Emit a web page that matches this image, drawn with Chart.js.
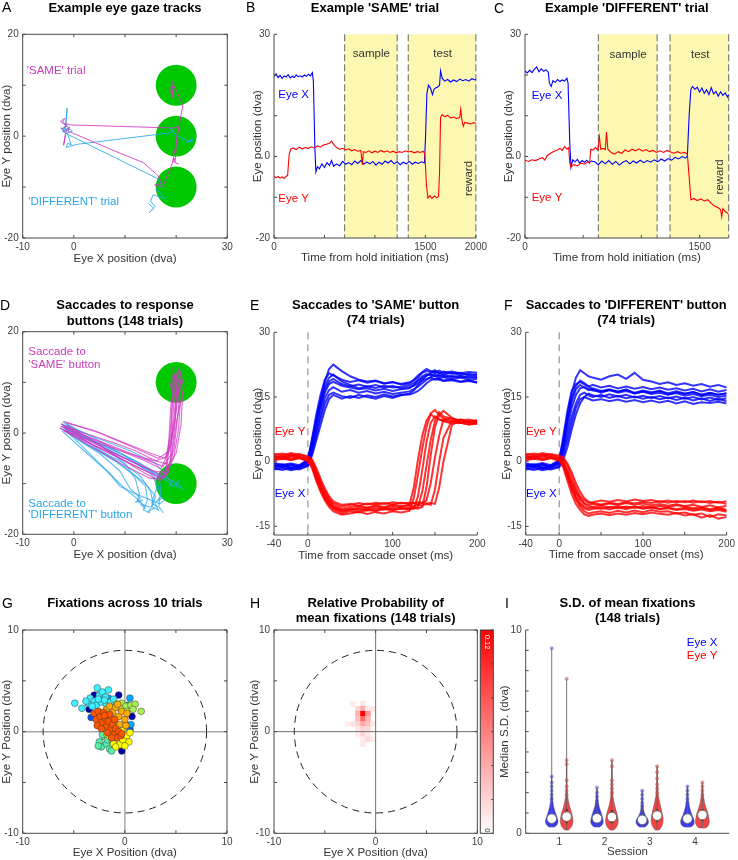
<!DOCTYPE html>
<html>
<head>
<meta charset="utf-8">
<title>Eye gaze figure</title>
<script src="https://cdn.jsdelivr.net/npm/chart.js@4.4.1/dist/chart.umd.min.js"></script>
<style>
  html, body { margin: 0; padding: 0; background: #fff; }
  body { position: relative; width: 738px; height: 860px; overflow: hidden; font-family: "Liberation Sans", Arial, sans-serif; }
  canvas { position: absolute; }
  .tag { position: absolute; font-size: 14px; line-height: 14px; color: #000; }
</style>
</head>
<body>
<canvas id="panelA" width="245" height="285" style="left:0px;top:0px"></canvas>
<canvas id="panelB" width="245" height="285" style="left:245px;top:0px"></canvas>
<canvas id="panelC" width="248" height="285" style="left:490px;top:0px"></canvas>
<canvas id="panelD" width="245" height="300" style="left:0px;top:285px"></canvas>
<canvas id="panelE" width="245" height="300" style="left:245px;top:285px"></canvas>
<canvas id="panelF" width="248" height="300" style="left:490px;top:285px"></canvas>
<canvas id="panelG" width="245" height="275" style="left:0px;top:585px"></canvas>
<canvas id="panelH" width="252" height="275" style="left:245px;top:585px"></canvas>
<canvas id="panelI" width="248" height="275" style="left:490px;top:585px"></canvas>

<div class="tag" style="left:2px;top:0px">A</div>
<div class="tag" style="left:246px;top:0px">B</div>
<div class="tag" style="left:494px;top:1px">C</div>
<div class="tag" style="left:0px;top:298px">D</div>
<div class="tag" style="left:250px;top:298px">E</div>
<div class="tag" style="left:504px;top:298px">F</div>
<div class="tag" style="left:2px;top:596px">G</div>
<div class="tag" style="left:250px;top:596px">H</div>
<div class="tag" style="left:505px;top:596px">I</div>

<script>
// ---- A: example gaze tracks (x, y in dva) ----
const sameTrack = [[20.5,-5.5],[19.3,-4.9],[19.6,-4.3],[19.8,-5.0],[20.2,0.5],[20.7,1.9],[19.5,1.6],[-0.5,2.2],[-2.2,2.6],[-1.8,3.5],[-2.6,2.9],[-1.4,2.0],[-2.3,1.5],[-1.6,0.5],[-2.0,-1.8],[-1.5,1.2],[-0.8,1.8],[-1.2,1.0],[0.5,0.3],[7.0,-2.5],[13.6,-5.2],[16.3,-7.6],[17.2,-9.2],[15.8,-9.6],[17.4,-9.9],[19.3,-5.2],[21.3,6.1],[19.2,10.8],[19.0,8.5],[18.6,9.4],[19.6,9.7],[19.2,7.5],[19.4,10.2]];
const diffTrack = [[23.5,-0.4],[22.0,-1.2],[23.3,-1.0],[21.5,-0.6],[20.0,0.2],[18.8,1.6],[19.6,1.0],[18.5,0.6],[0.6,-1.6],[-1.5,-2.2],[-1.2,-1.4],[-0.5,-1.7],[-1.6,1.5],[-1.3,5.5],[-1.8,0.8],[-2.6,1.6],[-0.9,1.2],[-1.5,2.4],[-2.2,0.8],[-1.0,1.6],[-0.3,1.0],[-1.5,0.5],[16.5,-8.4],[17.3,-9.6],[16.0,-10.6],[16.8,-11.0],[17.8,-12.3],[15.5,-11.5],[15.0,-12.8],[15.9,-13.8],[14.8,-15.0],[15.6,-14.2],[14.6,-13.2]];
const buttonsA = [[20, 10], [20, 0], [20, -10]];
const buttonRadius = 4;

// ---- B: example 'SAME' trial ([ms, dva]) ----
const sameEyeX = [[0,19.6],[20,20.3],[40,19.4],[60,19.9],[80,19.2],[100,19.8],[120,19.5],[140,20.1],[160,19.3],[180,19.7],[200,19.4],[220,20.0],[240,19.6],[260,19.8],[280,19.5],[300,20.0],[320,19.7],[340,20.2],[360,19.8],[380,20.6],[390,18.5],[405,2.0],[415,-3.8],[430,-2.5],[450,-3.0],[475,-1.8],[500,-2.7],[525,-1.5],[550,-2.2],[570,-1.0],[590,-2.4],[620,-1.8],[650,-2.3],[680,-1.2],[710,-1.9],[740,-1.5],[770,-2.0],[800,-1.1],[830,-1.7],[860,-1.0],[890,-1.9],[920,-1.3],[950,-1.8],[980,-1.2],[1010,-2.1],[1040,-1.4],[1070,-1.9],[1100,-1.1],[1130,-1.6],[1160,-1.0],[1190,-1.8],[1220,-1.3],[1250,-2.0],[1280,-1.4],[1310,-1.8],[1340,-1.2],[1370,-1.9],[1400,-1.4],[1430,-1.7],[1460,-1.3],[1490,-1.6],[1500,4.0],[1515,15.5],[1530,17.5],[1550,16.8],[1570,15.2],[1585,16.5],[1600,16.8],[1620,17.0],[1640,17.5],[1650,21.0],[1665,19.3],[1690,18.5],[1720,18.9],[1750,18.3],[1780,18.8],[1810,18.4],[1840,19.0],[1870,18.6],[1900,18.9],[1930,18.5],[1960,19.1],[1990,18.8],[2000,19.0]];
const sameEyeY = [[0,-4.8],[20,-5.2],[40,-4.9],[60,-5.3],[80,-5.0],[100,-5.4],[120,-4.9],[135,-4.6],[150,0.5],[165,1.8],[190,2.1],[220,1.7],[250,2.3],[280,1.9],[310,2.2],[340,2.0],[370,2.4],[400,2.1],[430,2.6],[460,2.3],[490,2.8],[520,3.0],[550,3.3],[570,3.8],[590,3.0],[620,2.2],[650,1.8],[680,2.0],[710,1.6],[740,1.9],[770,1.4],[800,1.7],[830,1.3],[860,1.5],[875,-2.0],[885,1.2],[910,1.0],[940,1.4],[970,0.9],[1000,1.3],[1030,1.0],[1060,1.5],[1090,1.1],[1120,1.4],[1150,1.0],[1180,1.3],[1210,0.9],[1240,1.2],[1270,1.0],[1300,1.4],[1330,1.1],[1360,1.3],[1390,0.9],[1420,1.2],[1450,1.0],[1480,1.3],[1495,0.5],[1510,-7.0],[1525,-10.2],[1545,-9.6],[1565,-10.3],[1590,-9.7],[1610,-10.1],[1630,-9.8],[1640,-4.0],[1650,9.5],[1665,10.3],[1690,9.8],[1720,10.1],[1750,9.5],[1780,9.7],[1810,9.3],[1840,9.6],[1850,11.6],[1860,9.2],[1875,7.4],[1890,8.4],[1920,8.2],[1950,8.0],[1980,8.3],[2000,8.1]];
const sameWindows = [[700, 1220], [1330, 2000]];

// ---- C: example 'DIFFERENT' trial ([ms, dva]) ----
const diffEyeX = [[0,21.0],[20,20.5],[40,21.2],[60,20.6],[80,21.4],[100,22.0],[120,20.8],[140,21.5],[160,20.9],[180,21.3],[200,20.7],[210,18.0],[225,17.2],[240,18.6],[260,18.2],[280,18.9],[300,18.4],[320,18.8],[340,18.5],[360,19.2],[370,18.0],[385,3.0],[395,-2.6],[410,-0.8],[430,-1.3],[450,-0.7],[470,-1.6],[490,-1.0],[510,-1.4],[530,-0.9],[550,-1.5],[570,-1.1],[600,-1.3],[630,-2.0],[660,-1.1],[690,-1.8],[720,-1.0],[750,-1.9],[780,-1.2],[810,-2.1],[840,-1.4],[870,-1.0],[900,-1.8],[930,-1.1],[960,-1.6],[990,-0.9],[1020,-1.5],[1050,-1.0],[1080,-1.4],[1110,-0.8],[1140,-1.3],[1170,-0.6],[1200,-1.1],[1230,-0.5],[1260,-0.9],[1290,-0.2],[1320,-0.6],[1350,0.0],[1380,-0.4],[1395,0.2],[1410,10.0],[1425,16.5],[1440,17.2],[1460,16.5],[1480,17.0],[1500,15.8],[1520,16.8],[1540,15.5],[1560,16.4],[1580,15.2],[1600,16.9],[1620,15.4],[1640,16.0],[1660,14.8],[1680,15.9],[1700,15.0],[1720,15.6],[1740,14.6],[1750,15.2]];
const diffEyeY = [[0,-0.9],[30,-1.2],[60,-0.8],[90,-1.0],[120,-0.6],[150,-0.3],[170,-0.9],[190,0.2],[220,0.8],[250,1.3],[280,1.6],[300,2.0],[320,1.5],[340,2.4],[360,1.8],[375,2.2],[385,-1.5],[395,-2.6],[420,-2.0],[450,-2.3],[480,-1.6],[510,-1.9],[540,-1.3],[555,-1.7],[565,1.8],[585,1.6],[605,2.2],[625,1.6],[640,4.8],[650,1.8],[670,2.0],[690,1.7],[700,6.0],[712,1.8],[740,1.0],[770,0.6],[800,1.2],[830,0.8],[860,1.6],[890,1.2],[920,1.8],[950,1.4],[980,1.9],[1010,1.3],[1040,1.7],[1070,1.2],[1100,1.5],[1130,1.0],[1160,1.4],[1190,1.0],[1220,1.5],[1250,1.1],[1280,0.8],[1310,1.2],[1340,0.8],[1370,1.0],[1395,0.6],[1410,-5.0],[1425,-10.6],[1450,-10.3],[1480,-10.8],[1510,-10.4],[1540,-10.9],[1570,-10.6],[1600,-11.5],[1630,-12.2],[1660,-12.6],[1680,-13.0],[1690,-14.8],[1700,-12.8],[1720,-13.5],[1740,-13.9],[1750,-14.2]];
const diffWindows = [[630, 1135], [1246, 1750]];

// ---- D: saccades to response buttons (x, y in dva) ----
const sameSaccades = [
  [[-2.5,1.8],[2,-0.5],[8,-3],[14,-5.5],[17,-7],[18.5,-4],[19.5,2],[20,8],[19.5,11],[20.5,10]],
  [[-2,1.2],[3,-1.5],[9,-4.5],[14.5,-7],[17.5,-8.5],[18.8,-6],[19.2,0],[19.6,7],[20.2,12],[19.8,10.5]],
  [[-1.5,2.0],[4,0.5],[10,-2],[15,-4],[17.8,-5],[19,-2],[20,4],[20.5,9],[21,12.5],[20.6,11]],
  [[-2.8,1.0],[1,-1],[7,-4],[13,-7],[16.5,-8.5],[18,-7],[18.6,-1],[19,6],[19.4,10],[18.9,9]],
  [[-1.8,0.6],[3,-2],[10,-5],[15.5,-7.5],[18.2,-7.8],[19.5,-5],[20.5,1],[20.8,6],[20.2,9.5],[20.9,12]],
  [[-2.2,1.5],[2,0],[8,-2],[12,-3.5],[16,-5.5],[18,-4.8],[19,0],[19.2,5],[19.6,9],[19.1,12]],
  [[-1.6,1.1],[4,-2.5],[11,-6],[16,-8.5],[17.2,-9],[18.4,-8],[19.6,-3],[20.4,4],[20.8,10],[20.3,13]],
  [[-2.4,0.8],[2,-1],[9,-3.5],[14,-5],[18.6,-6.2],[20,-4],[21,2],[21.2,7],[20.7,10.5],[21.4,10]],
  [[-2.0,2.3],[5,0],[12,-3],[16.5,-5],[18.8,-3.5],[19.8,3],[20.2,9],[19.7,11.5]],
  [[-1.4,1.6],[3,-1],[9,-5],[14,-8],[16.8,-9.5],[18.2,-7],[18.9,1],[19.4,8],[18.6,10.5]],
  [[-2.6,1.3],[6,-2],[13,-4.8],[17.4,-6.6],[19.2,-4],[20.2,3],[21.5,9],[20.9,11.8]],
  [[-1.9,0.4],[4,-3],[10,-6.5],[15,-9],[17.9,-8.8],[19,-5],[19.8,2],[20.1,9],[19.3,13]]
];
const diffSaccades = [
  [[-2,1.2],[3,-2],[9,-6],[14,-10],[16,-12.5],[15.2,-14.5],[16.5,-15.2],[15.8,-13.8]],
  [[-2.5,1.8],[2,-1],[8,-4],[14,-7],[17.5,-9],[19.5,-10.5],[20.5,-9.5],[19.8,-11]],
  [[-1.5,0.5],[2,-3],[6,-7],[10,-11],[13,-13.5],[14,-15],[13.2,-14.2],[14.8,-14.6]],
  [[-2.2,2.2],[4,-1],[10,-4.5],[15,-8],[16.5,-10.5],[17,-12.5],[16.2,-13.5],[17.4,-12.8]],
  [[-1.8,0.8],[3,-2.5],[9,-5.5],[13,-8.5],[15,-11.5],[15.5,-14],[14.6,-15.5],[15.8,-14.8]],
  [[-2.6,1.0],[1,-1.5],[5,-4],[9,-7.5],[11,-11],[13,-12.8],[12.2,-13.6],[13.5,-13.2]],
  [[-1.9,1.5],[4,-0.8],[11,-3.5],[16,-6],[18,-8.5],[19.2,-9.8],[18.6,-10.6],[19.6,-9.2]],
  [[-2.3,0.4],[2,-3.5],[7,-8],[9,-10.5],[12,-12],[14.5,-13],[16.8,-14],[17.8,-13.2]],
  [[-2,1.0],[5,-2],[12,-5.5],[16.5,-8],[17,-11],[16.6,-14.5],[17.5,-15.8],[16.9,-14.9]],
  [[-2.1,1.7],[3,-1.2],[9,-4],[13,-6],[15.6,-8],[16.2,-11],[15.2,-13.8],[16.4,-14.6]],
  [[-1.7,0.9],[2,-2],[8,-5.5],[12,-8.5],[14,-10.5],[14.4,-13.2],[13.6,-15.2],[14.9,-15.8]],
  [[-2.4,1.4],[4,-1.8],[10,-5],[15,-7.5],[18,-8.8],[20.5,-10.2],[21.2,-11],[20.2,-10.4]],
  [[-1.6,1.9],[2,-0.5],[6,-3],[10,-6],[12,-9],[12.8,-12],[12.4,-13.5],[13.8,-14.2]]
];
const buttonsD = [[20, 10], [20, -10]];

// ---- E: saccades to 'SAME' button (ms, dva) ----
const eTime = [-40,-30,-20,-10,0,5,10,15,20,25,30,40,50,60,70,80,90,100,110,120,125,130,135,140,145,150,155,160,170,180,190,200];
const eSameX = [
  [-1.2,-0.8,-1.5,-1.0,-0.2,3.5,8.0,12.5,16.0,18.0,18.5,17.6,17.2,16.8,17.0,16.5,16.9,16.4,16.8,17.0,17.8,18.9,19.8,20.3,20.0,20.4,19.8,20.1,19.6,19.9,19.4,19.7],
  [-0.5,-1.0,-0.6,-1.3,0.3,5.0,10.0,14.5,18.5,21.5,22.5,21.0,19.8,19.0,18.6,18.8,18.2,18.5,18.0,18.4,18.8,19.5,20.6,21.0,20.8,21.2,20.5,20.9,20.4,20.6,20.0,20.3],
  [-1.8,-1.5,-2.0,-1.6,-0.8,2.0,6.0,10.0,13.5,15.5,16.0,15.2,14.8,15.5,15.0,14.6,15.2,14.8,15.4,15.8,16.5,17.8,18.8,19.2,19.5,19.0,19.3,18.8,19.1,18.6,18.9,18.4],
  [-0.9,-1.3,-0.7,-1.1,0.0,4.2,9.0,13.0,16.8,18.6,19.2,18.0,17.5,17.9,17.4,17.8,17.2,17.6,17.0,17.3,17.6,18.2,19.0,19.9,20.6,20.9,20.5,20.2,20.6,20.1,20.4,20.0],
  [-1.4,-1.1,-1.7,-1.3,-0.5,3.0,7.0,11.0,14.8,16.6,17.3,16.2,16.6,16.0,16.4,15.8,16.2,15.7,16.0,16.3,16.8,17.4,18.2,19.0,19.6,19.9,19.3,19.6,19.2,19.5,19.0,19.2],
  [-0.3,-0.7,-0.4,-0.8,0.5,5.5,11.0,15.5,19.0,20.5,20.0,19.0,18.5,18.9,18.3,18.7,18.1,18.4,17.9,18.2,19.0,20.0,20.8,21.5,21.0,20.7,21.1,20.6,20.9,20.5,20.8,20.6],
  [-1.6,-1.9,-1.4,-1.8,-1.0,1.5,5.0,8.5,12.0,14.5,15.5,14.6,15.2,14.8,15.4,15.0,15.6,15.1,15.5,15.6,15.9,16.4,17.2,18.2,18.9,19.2,19.0,18.7,18.9,18.5,18.7,18.3],
  [-1.0,-0.6,-1.2,-0.9,0.2,4.5,9.5,14.0,17.5,19.5,20.2,18.6,17.8,17.0,17.5,17.1,17.6,17.2,17.4,17.8,18.2,18.8,19.4,20.0,20.3,19.8,20.1,19.7,19.9,19.5,19.8,19.4]
];
const eSameY = [
  [1.2,0.8,1.5,1.0,0.6,-0.5,-3.0,-5.5,-7.8,-9.2,-10.3,-11.2,-11.0,-10.6,-10.8,-10.4,-10.7,-10.3,-10.5,-10.0,-6.0,0.5,6.0,9.5,11.0,10.2,9.8,9.5,9.2,9.0,9.3,8.9],
  [0.5,1.0,0.4,0.9,0.2,-1.2,-4.0,-6.5,-8.5,-10.0,-11.0,-12.0,-11.5,-11.8,-11.2,-11.5,-11.0,-11.3,-10.8,-11.0,-10.8,-10.5,-7.0,-1.0,5.0,9.5,11.5,10.5,10.0,9.6,9.8,9.4],
  [1.8,1.5,2.0,1.6,1.0,0.2,-2.0,-4.5,-6.8,-8.5,-9.6,-10.4,-10.0,-9.6,-9.9,-9.5,-9.8,-9.4,-9.7,-9.5,-9.6,-9.4,-9.5,-9.0,-5.0,1.0,6.0,9.8,10.0,9.4,9.0,9.2],
  [0.9,1.3,0.7,1.1,0.4,-0.8,-3.5,-6.0,-8.2,-9.6,-10.8,-11.6,-11.2,-10.9,-11.3,-10.8,-11.1,-10.7,-11.0,-10.6,-10.9,-8.0,-2.0,4.5,9.0,10.5,9.8,9.4,8.8,9.1,8.6,8.8],
  [1.4,1.1,1.7,1.3,0.8,-0.2,-2.5,-5.0,-7.2,-8.8,-10.0,-10.9,-10.5,-10.2,-10.6,-10.1,-10.5,-10.0,-10.3,-10.1,-10.4,-10.0,-10.2,-9.8,-10.0,-6.5,0.0,5.5,9.5,9.0,9.4,8.8],
  [0.3,0.7,0.4,0.8,0.1,-1.5,-4.5,-7.0,-9.0,-10.5,-11.5,-12.3,-12.0,-11.6,-12.1,-11.7,-12.0,-11.5,-11.8,-11.4,-8.5,-3.0,3.0,8.0,11.2,12.0,10.8,10.0,9.4,9.7,9.2,9.5],
  [1.6,1.9,1.4,1.8,1.2,0.5,-1.5,-4.0,-6.2,-8.0,-9.2,-10.0,-9.8,-10.2,-9.7,-10.0,-9.6,-9.9,-9.5,-9.8,-9.6,-9.9,-9.5,-9.7,-9.6,-9.8,-6.0,0.0,8.5,9.8,9.2,9.6],
  [1.0,0.6,1.2,0.9,0.5,-0.9,-3.8,-6.2,-8.4,-9.9,-10.6,-11.4,-11.0,-11.3,-10.9,-11.2,-10.8,-11.1,-10.7,-11.0,-10.7,-10.9,-10.5,-6.0,1.5,8.0,10.8,11.8,10.2,9.0,8.6,9.0]
];

// ---- F: saccades to 'DIFFERENT' button (ms, dva) ----
const fTime = [-40,-30,-20,-10,0,5,10,15,20,25,30,35,40,50,60,70,80,90,100,110,120,130,140,150,160,170,180,190,200];
const fDiffX = [
  [-1.2,-0.8,-1.5,-1.0,-0.4,3.0,8.0,12.5,15.5,17.0,17.3,16.8,16.5,16.2,16.6,16.0,16.4,15.8,16.2,15.7,16.0,15.5,15.9,15.3,15.7,15.2,15.5,15.0,15.3],
  [-0.6,-1.0,-0.5,-1.3,0.2,5.0,11.0,16.0,19.5,21.2,20.5,19.8,19.5,19.0,19.8,20.2,19.2,20.6,19.0,18.6,18.0,18.4,17.8,18.2,17.6,18.0,17.4,17.8,17.2],
  [-1.8,-1.5,-2.0,-1.6,-1.0,1.5,5.0,9.0,12.5,14.5,15.0,14.6,14.2,14.5,14.0,14.4,13.9,14.3,13.8,14.2,13.7,14.1,13.5,14.0,13.4,13.8,13.6,13.9,13.5],
  [-0.9,-1.3,-0.7,-1.1,-0.2,4.0,9.5,14.0,16.8,17.8,17.2,16.6,17.0,16.4,16.8,16.2,16.6,16.0,16.5,16.1,16.4,15.9,16.3,15.8,16.1,15.6,16.0,15.5,15.9],
  [-1.4,-1.1,-1.7,-1.3,-0.6,2.5,6.5,10.5,13.5,15.5,16.0,15.4,15.0,15.5,14.8,15.2,14.7,15.1,14.6,15.0,14.5,14.9,14.3,14.8,14.2,14.7,14.1,14.6,14.0],
  [-0.4,-0.7,-0.3,-0.8,0.4,6.0,12.0,16.5,18.0,18.5,17.9,17.4,17.8,17.2,17.6,17.0,17.4,16.9,17.3,16.8,17.2,16.7,17.0,16.5,16.9,16.3,16.8,16.2,16.6],
  [-1.6,-1.9,-1.4,-1.8,-1.3,0.5,3.5,7.5,11.0,13.5,15.0,15.8,15.4,15.0,15.6,15.1,15.5,14.9,15.3,14.8,15.2,14.7,15.1,14.6,15.0,14.4,14.9,14.3,14.7],
  [-1.0,-0.6,-1.2,-0.9,0.0,4.5,10.0,14.8,17.5,18.8,18.2,17.5,16.8,16.0,16.6,16.2,16.8,15.8,16.3,15.9,16.5,15.6,16.1,15.7,16.2,15.4,15.9,15.5,15.8]
];
const fDiffY = [
  [1.2,0.8,1.5,1.0,0.6,-0.3,-2.5,-5.0,-7.2,-8.8,-9.8,-10.3,-10.5,-10.2,-10.6,-10.3,-10.7,-10.4,-10.8,-10.5,-10.9,-10.6,-11.0,-10.7,-11.1,-10.8,-11.2,-10.9,-11.3],
  [0.5,1.0,0.4,0.9,0.3,-1.0,-3.8,-6.5,-8.8,-10.5,-11.5,-12.0,-11.8,-11.5,-11.9,-11.4,-11.8,-11.3,-11.7,-11.2,-11.6,-11.5,-12.0,-11.8,-12.3,-12.0,-12.8,-12.2,-12.5],
  [1.8,1.5,2.0,1.6,1.1,0.5,-1.0,-3.5,-6.0,-8.0,-9.0,-9.5,-9.4,-9.0,-9.3,-8.9,-9.2,-8.8,-9.1,-8.9,-9.3,-9.0,-9.4,-9.1,-9.5,-9.2,-9.6,-9.3,-9.8],
  [0.9,1.3,0.7,1.1,0.5,-0.6,-3.2,-6.0,-8.5,-10.0,-10.8,-11.2,-11.0,-10.7,-11.1,-10.6,-11.0,-10.5,-10.9,-10.6,-11.0,-10.8,-11.2,-11.0,-11.4,-11.1,-11.5,-11.2,-11.6],
  [1.4,1.1,1.7,1.3,0.8,0.0,-2.0,-4.5,-6.8,-8.5,-9.6,-10.0,-9.8,-10.1,-9.7,-10.0,-9.6,-10.0,-9.7,-10.1,-9.8,-10.2,-9.9,-10.3,-10.0,-10.5,-10.1,-10.6,-10.2],
  [0.3,0.7,0.4,0.8,0.2,-1.4,-4.5,-7.5,-9.8,-11.2,-12.2,-12.6,-12.3,-12.0,-12.4,-12.0,-12.3,-11.9,-12.2,-11.8,-12.1,-12.3,-11.9,-12.5,-12.2,-13.0,-12.4,-13.2,-12.8],
  [1.6,1.9,1.4,1.8,1.4,1.0,-0.5,-2.5,-5.0,-7.0,-8.5,-9.3,-9.6,-9.9,-9.5,-9.8,-9.4,-9.7,-9.3,-9.6,-9.2,-9.5,-9.1,-9.4,-9.0,-9.4,-9.1,-9.5,-9.2],
  [1.0,0.6,1.2,0.9,0.6,-0.5,-3.0,-5.8,-8.0,-9.6,-10.4,-10.8,-10.6,-10.9,-10.5,-10.8,-10.4,-10.7,-10.3,-10.6,-10.2,-10.5,-10.1,-10.4,-10.8,-10.5,-11.0,-10.6,-11.2]
];

// ---- G: fixations across 10 trials (x, y in dva), one list per trial ----
const fixTrials = [
  [[-3.0,3.6],[-3.5,2.2],[-0.3,-1.9],[0.7,1.5],[-0.6,3.6]],
  [[-1.8,1.4],[-1.2,0.8]],
  [[0.3,0.6],[0.5,0.2],[-3.3,1.4]],
  [[0.5,3.3],[0.6,0.7],[-1.6,3.3],[0.3,2.6]],
  [[-4.9,2.8],[-4.2,2.3],[-3.6,2.8],[-3.4,3.3],[-3.0,3.0],[-2.7,4.3],[-2.5,3.6],[-2.2,3.9],[-1.9,3.4],[-1.6,4.1],[-2.8,2.6],[-2.3,2.9],[-1.8,2.7],[-3.2,2.5],[-2.0,3.1],[-1.4,2.9],[-2.6,3.2],[-3.8,3.0],[-1.1,3.2]],
  [[-2.5,-1.0],[-2.3,-1.5],[-2.0,-0.5],[-1.8,-1.2],[-1.5,-1.7],[-1.2,-0.9],[-2.2,-0.3],[-1.0,-1.4],[-1.7,-0.8],[-2.6,-1.4],[-1.3,-1.9]],
  [[-0.8,2.7],[-0.3,2.8],[0.1,2.5],[0.6,2.6],[1.0,2.7],[1.6,2.0],[0.2,2.0],[-0.5,2.3],[0.8,2.2]],
  [[-1.5,-0.5],[-1.1,-1.2],[-0.8,-0.3],[-0.5,-1.3],[-0.2,-0.8],[0.2,-0.4],[0.4,-1.0],[-0.9,-1.5],[-0.3,0.1],[0.0,-1.4],[-1.8,-0.2],[0.5,-0.1]],
  [[-1.8,2.2],[-1.5,2.5],[-1.2,1.9],[-0.9,2.4],[-0.6,1.5],[-0.3,2.0],[0.0,1.2],[0.2,1.8],[-1.0,1.0],[-0.5,0.7],[-1.4,1.4],[0.1,0.6],[-0.7,2.7]],
  [[-3.0,1.8],[-2.8,1.2],[-2.6,2.0],[-2.4,1.5],[-2.2,0.9],[-2.1,1.9],[-1.9,1.3],[-1.8,0.5],[-1.6,1.0],[-1.5,1.7],[-1.4,0.2],[-1.2,0.7],[-1.1,-0.3],[-0.9,0.3],[-0.8,-0.6],[-0.6,0.0],[-0.4,-0.4],[-2.7,0.6],[-2.3,0.3],[-1.7,-0.1],[-1.0,1.2],[-0.3,-0.2],[-2.0,1.6],[-1.3,-0.6]]
];
const trialColors = ['#0000aa', '#0000ff', '#0055ff', '#00aaff', '#40f0ff', '#55f0aa', '#aaf055', '#ffff00', '#ffaa00', '#ff5500'];

// ---- H: relative probability of mean fixations, 0.5 dva bins [x centre, y centre, p] ----
const heatCells = [
  [-2.25,2.75,0.010],[-1.25,2.75,0.012],
  [-1.75,2.25,0.020],[-1.25,2.25,0.040],[-0.75,2.25,0.010],[-0.25,2.25,0.012],
  [-1.75,1.75,0.035],[-1.25,1.75,0.120],[-0.75,1.75,0.050],
  [-1.75,1.25,0.030],[-1.25,1.25,0.070],[-0.75,1.25,0.035],
  [-2.75,0.75,0.008],[-2.25,0.75,0.012],[-1.75,0.75,0.020],[-1.25,0.75,0.040],[-0.75,0.75,0.030],[-0.25,0.75,0.010],
  [-1.75,0.25,0.012],[-1.25,0.25,0.020],[-0.75,0.25,0.018],
  [-1.75,-0.25,0.008],[-1.25,-0.25,0.020],[-0.75,-0.25,0.010],
  [-1.25,-0.75,0.010],[-0.75,-0.75,0.018],[-0.25,-0.75,0.008],
  [-1.25,-1.25,0.010]
];
const heatMax = 0.12;
const heatTicks = [0, 0.02, 0.04, 0.06, 0.08, 0.10, 0.12];

// ---- I: S.D. of mean fixations per session (dva) ----
const sessions = [1, 2, 3, 4];
const sdXLevels = [[0.3,0.4,0.55,0.7,0.9,1.1,1.3,1.6,2.0,2.8],[0.3,0.4,0.55,0.7,0.9,1.1,1.3,1.6,2.2],[0.3,0.4,0.55,0.7,0.85,1.0,1.2,1.5,2.1],[0.3,0.4,0.55,0.7,0.9,1.1,1.3,1.7,2.3]];
const sdXWidths = [[0.05,0.11,0.14,0.13,0.10,0.07,0.045,0.025,0.012,0.005],[0.05,0.11,0.14,0.13,0.11,0.08,0.05,0.025,0.006],[0.05,0.11,0.14,0.12,0.08,0.05,0.03,0.015,0.005],[0.06,0.13,0.15,0.14,0.10,0.07,0.045,0.02,0.006]];
const sdYLevels = [[0.15,0.3,0.45,0.6,0.8,1.0,1.3,1.6,1.9,2.4,3.6],[0.15,0.3,0.45,0.6,0.8,1.0,1.3,1.6,2.0,3.6],[0.15,0.3,0.45,0.6,0.8,1.0,1.3,1.6,2.0,3.3],[0.25,0.35,0.5,0.65,0.8,1.0,1.2,1.5,1.9,2.5]];
const sdYWidths = [[0.04,0.10,0.13,0.14,0.13,0.11,0.07,0.04,0.02,0.01,0.004],[0.04,0.10,0.13,0.14,0.13,0.11,0.07,0.04,0.02,0.004],[0.04,0.09,0.12,0.13,0.13,0.11,0.08,0.05,0.02,0.004],[0.07,0.12,0.15,0.15,0.14,0.12,0.09,0.05,0.02,0.005]];
const sdXMedian = [0.72, 0.74, 0.66, 0.72];
const sdYMedian = [0.82, 0.80, 0.87, 0.90];
const sdXRange = [[0.3,9.1],[0.3,2.25],[0.3,2.1],[0.3,2.3]];
const sdYRange = [[0.15,7.6],[0.15,3.6],[0.15,3.3],[0.25,2.5]];
const sdXQuart = [[0.55,0.95],[0.55,1.0],[0.5,0.85],[0.55,0.95]];
const sdYQuart = [[0.5,1.2],[0.5,1.15],[0.55,1.2],[0.6,1.2]];
const sdXTail = [[9.1,2.8,2.5,2.3,2.1,1.9,1.7],[2.25,2.0,1.8,1.6,1.45],[2.1,1.9,1.7,1.5,1.35],[2.3,2.1,1.9,1.7,1.5]];
const sdYTail = [[7.6,3.6,3.4,2.6,2.3,2.1,1.9],[3.6,3.3,2.6,2.4,2.2,2.0],[3.3,3.0,2.7,2.4,2.2,2.0],[2.5,2.3,2.1,1.9,1.7]];

// ---------------- drawing ----------------
Chart.defaults.font.family = '"Liberation Sans", Arial, Helvetica, sans-serif';
Chart.defaults.color = '#404040';
Chart.defaults.animation = false;
Chart.defaults.events = [];
Chart.defaults.plugins.legend.display = false;
Chart.defaults.plugins.tooltip.enabled = false;

const FONT = '"Liberation Sans", Arial, sans-serif';
const AXIS = '#4a4a4a';
const TITLE_LH = 13 * 1.2;
const LABEL_LH = 11.5 * 1.2;

const toXY = arr => arr.map(p => ({x: p[0], y: p[1]}));
const series = (t, v) => t.map((tt, i) => ({x: tt, y: v[i]}));

function lineSet(points, color, width, order) {
  return {data: points, showLine: true, borderColor: color, borderWidth: width, pointRadius: 0, fill: false, tension: 0, order: order || 0};
}

function buttonSet(centers) {
  return {
    data: toXY(centers),
    pointRadius: c => c.chart.scales.x.getPixelForValue(buttonRadius) - c.chart.scales.x.getPixelForValue(0),
    backgroundColor: '#00c800', borderWidth: 0, order: 20
  };
}

function scaleOpts(dir, min, max, ticks, labels, title, box, titlePos) {
  return {
    type: 'linear', min: min, max: max,
    afterBuildTicks: s => { s.ticks = ticks.map(v => ({value: v})); },
    afterFit: dir === 'x' ? s => { s.height = box.h - box.b; } : s => { s.width = box.l; },
    grid: {display: false, drawTicks: false},
    border: {display: false},
    ticks: {
      autoSkip: false, maxRotation: 0, padding: dir === 'x' ? 3 : 4, color: '#404040', font: {size: 10},
      callback: v => labels.includes(v) ? String(v) : ''
    },
    title: {
      display: true, text: title, color: '#333', font: {size: 11.5},
      padding: dir === 'x' ? {top: 0, bottom: Math.max(0, box.h - titlePos - LABEL_LH / 2)}
                           : {top: Math.max(0, titlePos - LABEL_LH / 2), bottom: 0}
    }
  };
}

// box lines and inward tick marks, MATLAB style
function frame(withBox, xMarks) {
  return {
    id: 'frame',
    afterDatasetsDraw(chart) {
      const {ctx, chartArea: a, scales: {x, y}} = chart;
      const L = 3;
      ctx.save();
      ctx.strokeStyle = AXIS;
      ctx.lineWidth = 1;
      ctx.beginPath();
      ctx.moveTo(a.left, a.top);
      ctx.lineTo(a.left, a.bottom);
      ctx.lineTo(a.right, a.bottom);
      if (withBox) { ctx.lineTo(a.right, a.top); ctx.closePath(); }
      if (xMarks !== false) {
        x.ticks.forEach(t => {
          const px = x.getPixelForValue(t.value);
          ctx.moveTo(px, a.bottom); ctx.lineTo(px, a.bottom - L);
          if (withBox) { ctx.moveTo(px, a.top); ctx.lineTo(px, a.top + L); }
        });
      }
      y.ticks.forEach(t => {
        const py = y.getPixelForValue(t.value);
        ctx.moveTo(a.left, py); ctx.lineTo(a.left + L, py);
        if (withBox) { ctx.moveTo(a.right, py); ctx.lineTo(a.right - L, py); }
      });
      ctx.stroke();
      ctx.restore();
    }
  };
}

// text placed at data coordinates
function notes(items) {
  return {
    id: 'notes',
    afterDatasetsDraw(chart) {
      const {ctx, scales: {x, y}} = chart;
      items.forEach(n => {
        ctx.save();
        ctx.font = (n.size || 11.5) + 'px ' + FONT;
        ctx.fillStyle = n.color || '#333';
        ctx.textAlign = n.align || 'left';
        ctx.textBaseline = 'middle';
        ctx.translate(x.getPixelForValue(n.x), y.getPixelForValue(n.y));
        if (n.rotate) ctx.rotate(n.rotate * Math.PI / 180);
        ctx.fillText(n.text, 0, 0);
        ctx.restore();
      });
    }
  };
}

// task epochs: yellow shading + dashed boundaries
function epochs(windows, dashAt, dash, color) {
  return {
    id: 'epochs',
    beforeDatasetsDraw(chart) {
      const {ctx, chartArea: a, scales: {x}} = chart;
      ctx.save();
      ctx.fillStyle = 'rgb(252,248,178)';
      windows.forEach(w => {
        const x0 = x.getPixelForValue(w[0]), x1 = x.getPixelForValue(w[1]);
        ctx.fillRect(x0, a.top, x1 - x0, a.bottom - a.top);
      });
      ctx.strokeStyle = color;
      ctx.lineWidth = 1;
      ctx.setLineDash(dash);
      ctx.beginPath();
      dashAt.forEach(v => {
        const px = x.getPixelForValue(v);
        ctx.moveTo(px, a.top); ctx.lineTo(px, a.bottom);
      });
      ctx.stroke();
      ctx.restore();
    }
  };
}

// zero crosshair + dashed 8 dva ring
function guides(ring, crossColor, crossWidth, onTop) {
  const draw = chart => {
    const {ctx, chartArea: a, scales: {x, y}} = chart;
    const cx = x.getPixelForValue(0), cy = y.getPixelForValue(0);
    ctx.save();
    ctx.strokeStyle = crossColor;
    ctx.lineWidth = crossWidth;
    ctx.beginPath();
    ctx.moveTo(cx, a.top); ctx.lineTo(cx, a.bottom);
    ctx.moveTo(a.left, cy); ctx.lineTo(a.right, cy);
    ctx.stroke();
    ctx.strokeStyle = '#222';
    ctx.lineWidth = 1;
    ctx.setLineDash([7, 5]);
    ctx.beginPath();
    ctx.ellipse(cx, cy, x.getPixelForValue(ring) - cx, cy - y.getPixelForValue(ring), 0, 0, 2 * Math.PI);
    ctx.stroke();
    ctx.restore();
  };
  return onTop ? {id: 'guides', afterDatasetsDraw: draw} : {id: 'guides', beforeDatasetsDraw: draw};
}

const colorbar = {
  id: 'colorbar',
  afterDraw(chart) {
    const {ctx, chartArea: a} = chart;
    const x0 = a.right + 3, w = 13, h = a.bottom - a.top;
    const g = ctx.createLinearGradient(0, a.top, 0, a.bottom);
    g.addColorStop(0, '#ff0000');
    g.addColorStop(1, '#ffffff');
    ctx.save();
    ctx.fillStyle = g;
    ctx.fillRect(x0, a.top, w, h);
    ctx.strokeStyle = '#404040';
    ctx.lineWidth = 1;
    ctx.strokeRect(x0, a.top, w, h);
    ctx.beginPath();
    heatTicks.forEach(v => {
      const py = a.bottom - h * v / heatMax;
      ctx.moveTo(x0 + w, py); ctx.lineTo(x0 + w - 2, py);
    });
    ctx.stroke();
    ctx.font = '7.5px ' + FONT;
    ctx.textAlign = 'center';
    ctx.textBaseline = 'middle';
    [[heatMax, '#ffffff', 12], [0, '#333', -3]].forEach(([v, col, off]) => {
      ctx.save();
      ctx.translate(x0 + w / 2, a.bottom - h * v / heatMax + off);
      ctx.rotate(Math.PI / 2);
      ctx.fillStyle = col;
      ctx.fillText(v === 0 ? '0' : String(v), 0, 0);
      ctx.restore();
    });
    ctx.restore();
  }
};

function panel(id, box, ax, datasets, plugins) {
  const lines = Array.isArray(ax.title) ? ax.title.length : 1;
  return new Chart(document.getElementById(id), {
    type: 'scatter',
    data: {datasets: datasets},
    options: {
      responsive: false,
      devicePixelRatio: 1,
      layout: {padding: {left: 0, top: 0, bottom: 0, right: box.w - box.r}},
      plugins: {
        title: {
          display: true, text: ax.title, fullSize: false, color: '#000',
          font: {size: 13, weight: 'bold'},
          padding: {top: ax.titleTop, bottom: box.t - ax.titleTop - TITLE_LH * lines}
        }
      },
      scales: {
        x: scaleOpts('x', ax.x[0], ax.x[1], ax.xTicks, ax.xLabels, ax.xTitle, box, ax.xTitlePos),
        y: scaleOpts('y', ax.y[0], ax.y[1], ax.yTicks, ax.yLabels, ax.yTitle, box, ax.yTitlePos)
      }
    },
    plugins: plugins
  });
}

const MAG = 'rgba(210,55,195,0.85)';
const SKY = 'rgba(40,168,235,0.85)';
const MAG_TXT = '#c93cbc';
const SKY_TXT = '#2aa6e6';

// A
panel('panelA', {w: 245, h: 285, l: 22.7, t: 34.3, r: 227.3, b: 238},
  {title: 'Example eye gaze tracks', titleTop: 0.5,
   x: [-10, 30], xTicks: [-10, 0, 10, 20, 30], xLabels: [-10, 0, 30], xTitle: 'Eye X position (dva)', xTitlePos: 259,
   y: [-20, 20], yTicks: [-20, -10, 0, 10, 20], yLabels: [-20, 0, 20], yTitle: 'Eye Y position (dva)', yTitlePos: 7},
  [lineSet(toXY(sameTrack), MAG, 1, 1), lineSet(toXY(diffTrack), SKY, 1, 2), buttonSet(buttonsA)],
  [frame(true), notes([
    {text: "'SAME' trial", x: -9.2, y: 12.9, color: MAG_TXT},
    {text: "'DIFFERENT' trial", x: -8.9, y: -12.9, color: SKY_TXT}
  ])]);

// B
panel('panelB', {w: 245, h: 285, l: 29, t: 34.3, r: 232.3, b: 238},
  {title: "Example 'SAME' trial", titleTop: 0.5,
   x: [0, 2000], xTicks: [0, 500, 1000, 1500, 2000], xLabels: [0, 1500, 2000], xTitle: 'Time from hold initiation (ms)', xTitlePos: 258,
   y: [-20, 30], yTicks: [-20, -10, 0, 10, 20, 30], yLabels: [-20, 0, 30], yTitle: 'Eye position (dva)', yTitlePos: 12.7},
  [lineSet(toXY(sameEyeY), '#ff0000', 1.1, 1), lineSet(toXY(sameEyeX), '#0000ff', 1.1, 2)],
  [epochs(sameWindows, [700, 1220, 1330, 2000], [7, 3], '#666'), frame(false), notes([
    {text: 'Eye X', x: 43, y: 15.1, color: '#0000ff'},
    {text: 'Eye Y', x: 43, y: -10.3, color: '#ff0000'},
    {text: 'sample', x: 965, y: 25.2, align: 'center'},
    {text: 'test', x: 1670, y: 25.2, align: 'center'},
    {text: 'reward', x: 1928, y: -5.4, align: 'center', rotate: -90}
  ])]);

// C
panel('panelC', {w: 248, h: 285, l: 35, t: 34.3, r: 238.7, b: 238},
  {title: "Example 'DIFFERENT' trial", titleTop: 0.5,
   x: [0, 1750], xTicks: [0, 500, 1000, 1500], xLabels: [0, 1500], xTitle: 'Time from hold initiation (ms)', xTitlePos: 258,
   y: [-20, 30], yTicks: [-20, -10, 0, 10, 20, 30], yLabels: [-20, 0, 30], yTitle: 'Eye position (dva)', yTitlePos: 19},
  [lineSet(toXY(diffEyeY), '#ff0000', 1.1, 1), lineSet(toXY(diffEyeX), '#0000ff', 1.1, 2)],
  [epochs(diffWindows, [630, 1135, 1246, 1750], [7, 3], '#666'), frame(false), notes([
    {text: 'Eye X', x: 57, y: 15, color: '#0000ff'},
    {text: 'Eye Y', x: 57, y: -10.1, color: '#ff0000'},
    {text: 'sample', x: 886, y: 25, align: 'center'},
    {text: 'test', x: 1506, y: 25, align: 'center'},
    {text: 'reward', x: 1671, y: -5, align: 'center', rotate: -90}
  ])]);

// D
panel('panelD', {w: 245, h: 300, l: 22.7, t: 46.7, r: 227.3, b: 249.3},
  {title: ['Saccades to response', 'buttons (148 trials)'], titleTop: 12.9,
   x: [-10, 30], xTicks: [-10, 0, 10, 20, 30], xLabels: [-10, 0, 30], xTitle: 'Eye X position (dva)', xTitlePos: 270,
   y: [-20, 20], yTicks: [-20, -10, 0, 10, 20], yLabels: [-20, 0, 20], yTitle: 'Eye Y position (dva)', yTitlePos: 7},
  sameSaccades.map(s => lineSet(toXY(s), 'rgba(210,55,195,0.7)', 1.2, 1))
    .concat(diffSaccades.map(s => lineSet(toXY(s), 'rgba(40,168,235,0.7)', 1.2, 2)))
    .concat([buttonSet(buttonsD)]),
  [frame(true), notes([
    {text: 'Saccade to', x: -8.9, y: 16.05, color: MAG_TXT},
    {text: "'SAME' button", x: -8.9, y: 13.55, color: MAG_TXT},
    {text: 'Saccade to', x: -8.9, y: -14.0, color: SKY_TXT},
    {text: "'DIFFERENT' button", x: -8.9, y: -16.2, color: SKY_TXT}
  ])]);

// E
panel('panelE', {w: 245, h: 300, l: 29, t: 47.3, r: 232.3, b: 250},
  {title: ["Saccades to 'SAME' button", '(74 trials)'], titleTop: 12.5,
   x: [-40, 200], xTicks: [-40, 0, 50, 100, 150, 200], xLabels: [-40, 0, 100, 200], xTitle: 'Time from saccade onset (ms)', xTitlePos: 270.7,
   y: [-17, 30], yTicks: [-15, 0, 15, 30], yLabels: [-15, 0, 15, 30], yTitle: 'Eye position (dva)', yTitlePos: 12.7},
  eSameY.map(v => lineSet(series(eTime, v), 'rgba(255,0,0,0.8)', 2, 1))
    .concat(eSameX.map(v => lineSet(series(eTime, v), 'rgba(0,0,255,0.8)', 2, 2))),
  [epochs([], [0], [7, 5], '#808080'), frame(false), notes([
    {text: 'Eye Y', x: -3, y: 7, color: '#ff0000', align: 'right'},
    {text: 'Eye X', x: -3, y: -7.35, color: '#0000ff', align: 'right'}
  ])]);

// F
panel('panelF', {w: 248, h: 300, l: 35.7, t: 47.3, r: 238.7, b: 250},
  {title: ["Saccades to 'DIFFERENT' button", '(74 trials)'], titleTop: 12.5,
   x: [-40, 200], xTicks: [-40, 0, 50, 100, 150, 200], xLabels: [-40, 0, 100, 200], xTitle: 'Time from saccade onset (ms)', xTitlePos: 270,
   y: [-17, 30], yTicks: [-15, 0, 15, 30], yLabels: [-15, 0, 15, 30], yTitle: 'Eye position (dva)', yTitlePos: 17},
  fDiffY.map(v => lineSet(series(fTime, v), 'rgba(255,0,0,0.8)', 2, 1))
    .concat(fDiffX.map(v => lineSet(series(fTime, v), 'rgba(0,0,255,0.8)', 2, 2))),
  [epochs([], [0], [7, 5], '#808080'), frame(false), notes([
    {text: 'Eye Y', x: -3, y: 7, color: '#ff0000', align: 'right'},
    {text: 'Eye X', x: -3, y: -7.35, color: '#0000ff', align: 'right'}
  ])]);

// G
panel('panelG', {w: 245, h: 275, l: 22.7, t: 45, r: 227, b: 248.3},
  {title: 'Fixations across 10 trials', titleTop: 10.2,
   x: [-10, 10], xTicks: [-10, -5, 0, 5, 10], xLabels: [-10, 0, 10], xTitle: 'Eye X Position (dva)', xTitlePos: 268.3,
   y: [-10, 10], yTicks: [-10, -5, 0, 5, 10], yLabels: [-10, 0, 10], yTitle: 'Eye Y Position (dva)', yTitlePos: 7},
  fixTrials.map((pts, i) => ({
    data: toXY(pts), pointRadius: 3.4, backgroundColor: trialColors[i],
    borderColor: 'rgba(50,50,50,0.75)', borderWidth: 0.6, order: 10 - i
  })),
  [guides(8, '#a8a8a8', 1.5, false), frame(true)]);

// H
const heatColor = v => { const k = Math.round(255 * (1 - v / heatMax)); return 'rgb(255,' + k + ',' + k + ')'; };
panel('panelH', {w: 252, h: 275, l: 29, t: 45, r: 232.3, b: 248.3},
  {title: ['Relative Probability of', 'mean fixations (148 trials)'], titleTop: 10.2,
   x: [-10, 10], xTicks: [-10, -5, 0, 5, 10], xLabels: [-10, 0, 10], xTitle: 'Eye X Position (dva)', xTitlePos: 268.3,
   y: [-10, 10], yTicks: [-10, -5, 0, 5, 10], yLabels: [-10, 0, 10], yTitle: 'Eye Y Position (dva)', yTitlePos: 10},
  [{
    data: heatCells.map(c => ({x: c[0], y: c[1]})),
    pointStyle: 'rect',
    pointRadius: c => (c.chart.scales.x.getPixelForValue(0.5) - c.chart.scales.x.getPixelForValue(0) + 0.4) / Math.SQRT2,
    backgroundColor: heatCells.map(c => heatColor(c[2])),
    borderWidth: 0
  }],
  [guides(8, '#707070', 1, true), frame(true), colorbar]);

// I
const IOFF = 0.165;
const BLUE_FILL = 'rgba(25,25,245,0.85)';
const RED_FILL = 'rgba(245,35,35,0.85)';
function violinOutline(c, levels, widths) {
  const right = levels.map((v, i) => ({x: c + widths[i], y: v}));
  const left = levels.map((v, i) => ({x: c - widths[i], y: v})).reverse();
  return right.concat(left);
}
function violinSets(c, levels, widths, range, quart, median, tail, fillCol, dotCol) {
  return [
    {data: violinOutline(c, levels, widths), showLine: true, fill: 'shape', tension: 0.35,
     backgroundColor: fillCol, borderColor: 'rgba(80,80,80,0.55)', borderWidth: 0.8, pointRadius: 0, order: 6},
    lineSet([{x: c, y: range[0]}, {x: c, y: range[1]}], 'rgba(95,95,95,0.85)', 1, 5),
    lineSet([{x: c, y: quart[0]}, {x: c, y: quart[1]}], 'rgba(60,60,60,0.8)', 2.5, 4),
    {data: tail.map(v => ({x: c, y: v})), pointRadius: 1.7, backgroundColor: dotCol,
     borderColor: 'rgba(90,90,90,0.45)', borderWidth: 0.6, order: 3},
    {data: [{x: c, y: median}], pointRadius: 4.8, backgroundColor: '#ffffff',
     borderColor: 'rgba(100,100,100,0.9)', borderWidth: 1, order: 1}
  ];
}
let violinData = [];
sessions.forEach((s, i) => {
  violinData = violinData
    .concat(violinSets(s - IOFF, sdXLevels[i], sdXWidths[i], sdXRange[i], sdXQuart[i], sdXMedian[i], sdXTail[i], BLUE_FILL, 'rgba(60,60,255,0.45)'))
    .concat(violinSets(s + IOFF, sdYLevels[i], sdYWidths[i], sdYRange[i], sdYQuart[i], sdYMedian[i], sdYTail[i], RED_FILL, 'rgba(255,60,60,0.45)'));
});
panel('panelI', {w: 248, h: 275, l: 35.7, t: 45, r: 239.3, b: 248.3},
  {title: ['S.D. of mean fixations', '(148 trials)'], titleTop: 10.2,
   x: [0.26, 4.76], xTicks: sessions, xLabels: sessions, xTitle: 'Session', xTitlePos: 267,
   y: [0, 10], yTicks: [0, 1, 2, 3, 4, 5, 6, 7, 8, 9, 10], yLabels: [0, 10], yTitle: 'Median S.D. (dva)', yTitlePos: 15},
  violinData,
  [frame(false, false), notes([
    {text: 'Eye X', x: 4.5, y: 9.35, color: '#0000ff', align: 'right'},
    {text: 'Eye Y', x: 4.5, y: 8.72, color: '#ff0000', align: 'right'}
  ])]);
</script>
</body>
</html>
